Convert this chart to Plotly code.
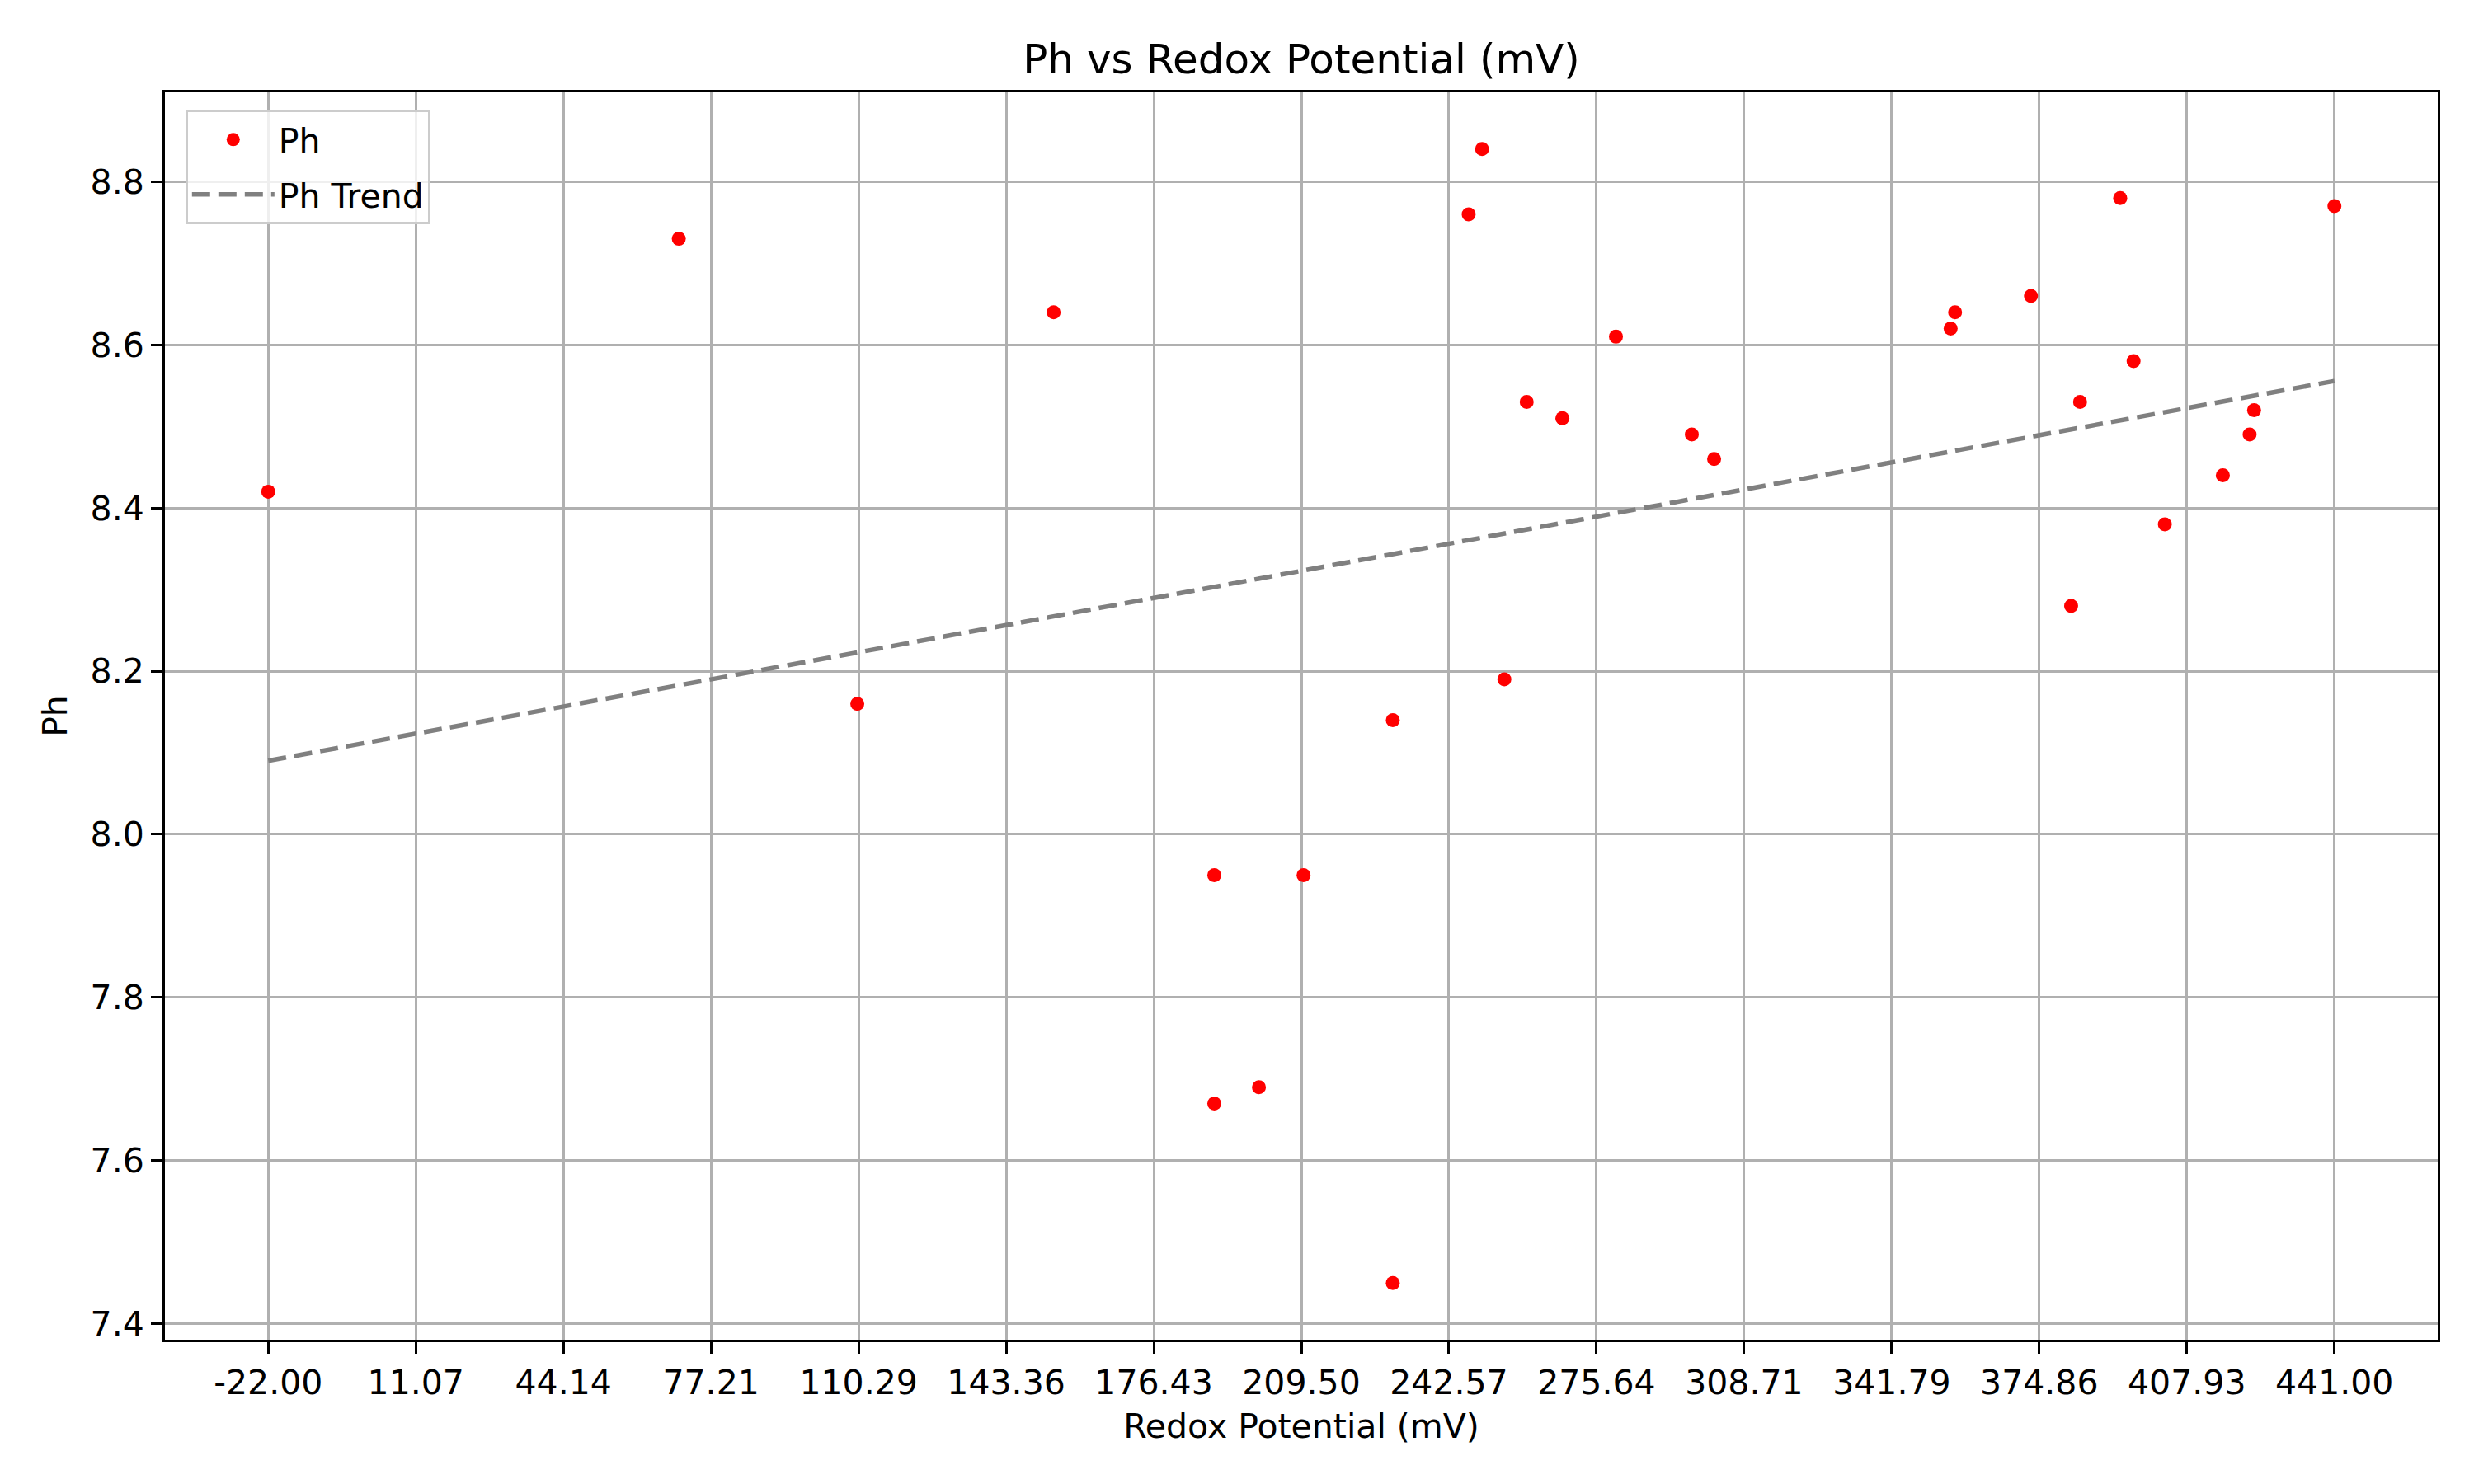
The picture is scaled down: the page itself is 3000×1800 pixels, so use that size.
import numpy as np
import plotly.graph_objects as go

# readings taken from the scatter
redox = [-22, 70, 110, 154, 190, 190, 200, 210, 230, 230,
         247, 250, 255, 260, 268, 280, 297, 302, 355, 356,
         373, 382, 384, 393, 396, 403, 416, 422, 423, 441]
ph = [8.42, 8.73, 8.16, 8.64, 7.95, 7.67, 7.69, 7.95, 8.14, 7.45,
      8.76, 8.84, 8.19, 8.53, 8.51, 8.61, 8.49, 8.46, 8.62, 8.64,
      8.66, 8.28, 8.53, 8.78, 8.58, 8.38, 8.44, 8.49, 8.52, 8.77]

x_ticks = [-22.00, 11.07, 44.14, 77.21, 110.29, 143.36, 176.43, 209.50,
           242.57, 275.64, 308.71, 341.79, 374.86, 407.93, 441.00]
x_ticktext = ["%.2f" % v for v in x_ticks]
y_ticks = [7.4, 7.6, 7.8, 8.0, 8.2, 8.4, 8.6, 8.8]

# linear trend, same as the original fit
coef = np.polyfit(redox, ph, 1)
trend_x = np.sort(np.array(redox, dtype=float))
trend_y = np.polyval(coef, trend_x)

font = "DejaVu Sans"
fs = 41

fig = go.Figure()
fig.add_trace(go.Scatter(
    x=redox, y=ph, mode="markers", name="Ph", legendgroup="pts",
    marker=dict(color="red", size=17, line=dict(width=0)),
))
fig.add_trace(go.Scatter(
    x=trend_x, y=trend_y, mode="lines", name="Ph Trend", legendgroup="trend",
    line=dict(color="gray", width=5.5, dash="22px,10px"),
))

# page body adds an 8px offset, margins are shifted to compensate
fig.update_layout(
    width=3000, height=1800,
    margin=dict(l=192, r=52, t=104, b=183),
    paper_bgcolor="white", plot_bgcolor="white",
    font=dict(family=font, size=fs, color="black"),
    title=dict(text="Ph vs Redox Potential (mV)", x=0.5, xref="paper",
               xanchor="center", y=1 - 63 / 1800, yref="container",
               yanchor="middle", font=dict(size=50)),
    legend=dict(x=0.009, y=0.986, xanchor="left", yanchor="top",
                bgcolor="rgba(255,255,255,0.8)", bordercolor="#cccccc",
                borderwidth=3, font=dict(size=fs), itemwidth=100,
                traceorder="grouped", tracegroupgap=10),
    showlegend=True,
)

fig.update_xaxes(
    range=[-45.15, 464.15], tickvals=x_ticks, ticktext=x_ticktext,
    tickfont=dict(size=fs),
    showgrid=True, gridcolor="#b0b0b0", gridwidth=3,
    showline=True, linecolor="black", linewidth=3, mirror=True,
    ticks="outside", ticklen=14, tickwidth=3, tickcolor="black",
    zeroline=False, automargin=False,
    title=dict(text="Redox Potential (mV)", standoff=16, font=dict(size=fs)),
)
fig.update_yaxes(
    range=[7.3805, 8.9095], tickvals=y_ticks, tickformat=".1f",
    tickfont=dict(size=fs),
    showgrid=True, gridcolor="#b0b0b0", gridwidth=3,
    showline=True, linecolor="black", linewidth=3, mirror=True,
    ticks="outside", ticklen=14, tickwidth=3, tickcolor="black",
    zeroline=False, automargin=False,
    title=dict(text="Ph", standoff=16, font=dict(size=fs)),
)

fig.write_html("out.html")
